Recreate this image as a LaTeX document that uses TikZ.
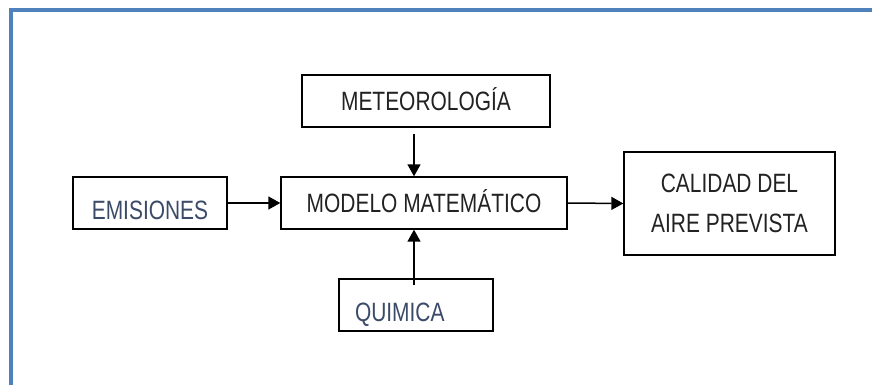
\documentclass[tikz,border=0pt]{standalone}
\usepackage{fontspec}
\setmainfont{Liberation Sans}[FakeStretch=0.79]
\usepackage{xcolor}
\usetikzlibrary{arrows.meta}

\definecolor{framecol}{RGB}{79,129,189}
\definecolor{slatetext}{RGB}{58,74,104}
\definecolor{inktext}{RGB}{34,34,34}

\begin{document}
\begin{tikzpicture}[x=1pt, y=-1pt,
    blk/.style={draw, line width=1.4pt, minimum height=52pt, inner sep=0pt,
        text=inktext, font=\fontsize{26.5}{40}\selectfont, text height=19pt, text depth=0pt},
    low/.style={text=slatetext, text height=33pt},
    flow/.style={line width=1.5pt, -{Triangle[length=12pt,width=13pt]}}]
    \useasboundingbox (0,0) rectangle (872,385);

    % Blue page frame
    \draw[framecol, line width=4.5pt] (11,385) -- (11,10) -- (872,10);

    % Create the blocks
    \node[blk, minimum width=248pt] (M) at (426,101) {METEOROLOGÍA};
    \node[blk, minimum width=286pt] (MM) at (424,203) {MODELO MATEMÁTICO};
    \node[blk, low, minimum width=154pt] (E) at (150,203) {EMISIONES};
    \node[blk, low, minimum width=154pt, text width=122pt, align=left] (Q) at (416,305) {QUIMICA};
    \node[blk, minimum width=211pt, minimum height=103pt, align=center,
        text height=, text depth=] (C) at (729.5,203.5) {CALIDAD DEL\\AIRE PREVISTA};

    % Draw the arrows
    \coordinate (ax) at (414,0);
    \draw[flow, shorten <=6pt] (M.south -| ax) -- (MM.north -| ax);
    \draw[flow, shorten <=-7pt] (Q.north -| ax) -- (MM.south -| ax);
    \draw[flow] (E.east) -- (MM.west);
    \draw[flow] (MM.east) -- (C.west);
\end{tikzpicture}
\end{document}
